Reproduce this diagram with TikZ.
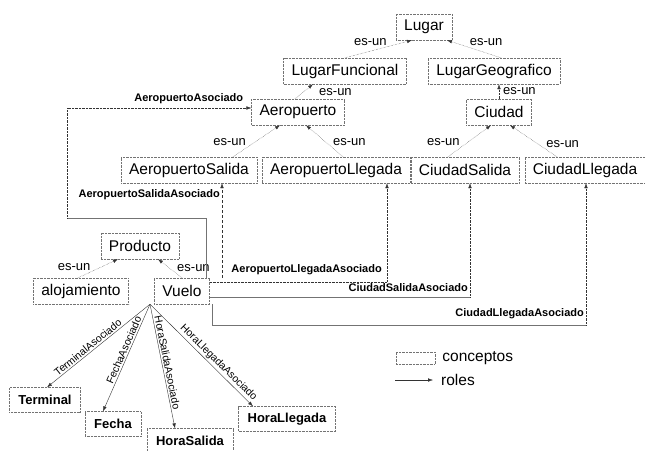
\documentclass[tikz,border=0pt]{standalone}
\usepackage{fontspec}
\setmainfont{Liberation Sans}
\usetikzlibrary{arrows.meta}

\tikzset{
  concepto/.style={draw=black!55, densely dotted, minimum height=26pt, inner xsep=8pt, inner ysep=0pt,
    font=\fontsize{15.5}{18}\selectfont},
  hoja/.style={concepto, minimum height=25pt, inner xsep=9pt, font=\fontsize{13}{15}\selectfont\bfseries},
  esun/.style={draw=black!80, densely dotted, -{Latex[length=5pt,width=3.5pt]}},
  esunlbl/.style={font=\fontsize{13}{15}\selectfont, inner sep=1pt},
  rol/.style={draw=black!80, -{Latex[length=5pt,width=3.5pt]}},
  rolline/.style={draw=black!55},
  rollbl/.style={font=\fontsize{11}{13}\selectfont\bfseries, inner sep=1pt},
  slopelbl/.style={font=\fontsize{10.5}{12}\selectfont, inner sep=0.5pt, sloped, above=1pt},
  leyenda/.style={font=\fontsize{15.5}{18}\selectfont, inner sep=1pt, anchor=west}
}

\begin{document}
\begin{tikzpicture}[x=1pt,y=-1pt]
  \useasboundingbox (0,0) rectangle (645,450);

  % Conceptos
  \node[concepto] (lugar) at (424,27) {Lugar};
  \node[concepto] (lfun) at (345,71) {LugarFuncional};
  \node[concepto] (lgeo) at (494,71) {LugarGeografico};
  \node[concepto] (aerop) at (298,112) {Aeropuerto};
  \node[concepto] (ciudad) at (499,112) {Ciudad};
  \node[concepto] (aerosal) at (189,170) {AeropuertoSalida};
  \node[concepto] (aerolleg) at (336,170) {AeropuertoLlegada};
  \node[concepto] (ciusal) at (465,170) {CiudadSalida};
  \node[concepto] (ciulleg) at (585,170) {CiudadLlegada};
  \node[concepto] (producto) at (140,246) {Producto};
  \node[concepto] (aloj) at (81,291) {alojamiento};
  \node[concepto] (vuelo) at (182,291) {Vuelo};
  \node[hoja] (terminal) at (45,400) {Terminal};
  \node[hoja] (fecha) at (113,424) {Fecha};
  \node[hoja] (horasal) at (190,441) {HoraSalida};
  \node[hoja] (horalleg) at (287,419) {HoraLlegada};

  % Relaciones es-un
  \draw[esun] (lfun.north) -- ([xshift=-12pt]lugar.south)
    node[esunlbl, pos=0.64, anchor=south east] {es-un};
  \draw[esun] ([xshift=7pt]lgeo.north) -- ([xshift=23pt]lugar.south)
    node[esunlbl, pos=0.6, anchor=south west] {es-un};
  \draw[esun] ([xshift=-3pt]aerop.north) -- ([xshift=-32pt]lfun.south)
    node[esunlbl, at end, anchor=north west, xshift=5pt, yshift=-3pt] {es-un};
  \draw[esun] (ciudad.north) -- (ciudad.north |- lgeo.south)
    node[esunlbl, pos=0.5, anchor=west, xshift=3pt] {es-un};
  \draw[esun] ([xshift=44pt]aerosal.north) -- ([xshift=-18pt]aerop.south)
    node[esunlbl, pos=0.3, anchor=south east] {es-un};
  \draw[esun] ([xshift=7pt]aerolleg.north) -- ([xshift=8pt]aerop.south)
    node[esunlbl, pos=0.3, anchor=south west] {es-un};
  \draw[esun] ([xshift=-17pt]ciusal.north) -- ([xshift=-8pt]ciudad.south)
    node[esunlbl, pos=0.3, anchor=south east] {es-un};
  \draw[esun] ([xshift=-28pt]ciulleg.north) -- ([xshift=11pt]ciudad.south)
    node[esunlbl, pos=0.25, anchor=south west] {es-un};
  \draw[esun] ([xshift=-3pt]aloj.north) -- ([xshift=-22pt]producto.south)
    node[esunlbl, pos=0.34, anchor=south east] {es-un};
  \draw[esun] (vuelo.north) -- ([xshift=18pt]producto.south)
    node[esunlbl, pos=0.25, anchor=south west] {es-un};

  % Roles de Vuelo
  \coordinate (aa1) at (206,218);
  \coordinate (aa2) at (67,218);
  \coordinate (aa3) at (67,108);
  \draw[rolline] (vuelo.north -| aa1) -- (aa1) -- (aa2);
  \draw[rol, densely dotted] (aa2) -- (aa3) -- (aerop.west |- aa3)
    node[rollbl, pos=0.66, above=3pt] {AeropuertoAsociado};

  \coordinate (asx) at (222,0);
  \draw[rol, densely dashed] (vuelo.north -| asx) -- (aerosal.south -| asx)
    node[rollbl, pos=0.85, anchor=base east, xshift=-1pt] {AeropuertoSalidaAsociado};

  \coordinate (alb) at (387,282);
  \draw[rol, densely dotted] (vuelo.east |- alb) -- (alb)
    node[rollbl, at end, anchor=south east, xshift=-4pt, yshift=6pt] {AeropuertoLlegadaAsociado}
    -- (aerolleg.south -| alb);

  \coordinate (csb) at (470,297);
  \draw[rolline] (vuelo.east |- csb) -- (csb)
    node[rollbl, at end, anchor=south east, xshift=-1pt, yshift=4pt] {CiudadSalidaAsociado};
  \draw[rol, densely dotted] (csb) -- (ciusal.south -| csb);

  \coordinate (clb1) at (212,325);
  \coordinate (clb2) at (586,325);
  \draw[rolline] (vuelo.south -| clb1) -- (clb1) -- (clb2)
    node[rollbl, at end, anchor=south east, xshift=-1pt, yshift=5pt] {CiudadLlegadaAsociado};
  \draw[rol, densely dotted] (clb2) -- (ciulleg.south -| clb2);

  \draw[rol] ([xshift=-32pt]vuelo.south) -- ([xshift=2pt]terminal.north)
    node[slopelbl, pos=0.57] {TerminalAsociado};
  \draw[rol] ([xshift=-32pt]vuelo.south) -- ([xshift=-10pt]fecha.north)
    node[slopelbl, pos=0.45] {FechaAsociado};
  \draw[rol] ([xshift=-32pt]vuelo.south) -- ([xshift=-15pt]horasal.north)
    node[slopelbl, pos=0.48] {HoraSalidaAsociado};
  \draw[rol] ([xshift=-32pt]vuelo.south) -- ([xshift=-34pt]horalleg.north)
    node[slopelbl, pos=0.62] {HoraLlegadaAsociado};

  % Leyenda
  \node[concepto, minimum width=39pt, minimum height=12pt, inner sep=0pt] (legc) at (415.5,358) {};
  \node[leyenda] (legctxt) at ([xshift=6pt]legc.east) {conceptos};
  \coordinate (legr1) at (395,380);
  \coordinate (legr2) at (433,380);
  \draw[rol] (legr1) -- (legr2);
  \node[leyenda] (legrtxt) at ([xshift=7pt]legr2) {roles};
\end{tikzpicture}
\end{document}
